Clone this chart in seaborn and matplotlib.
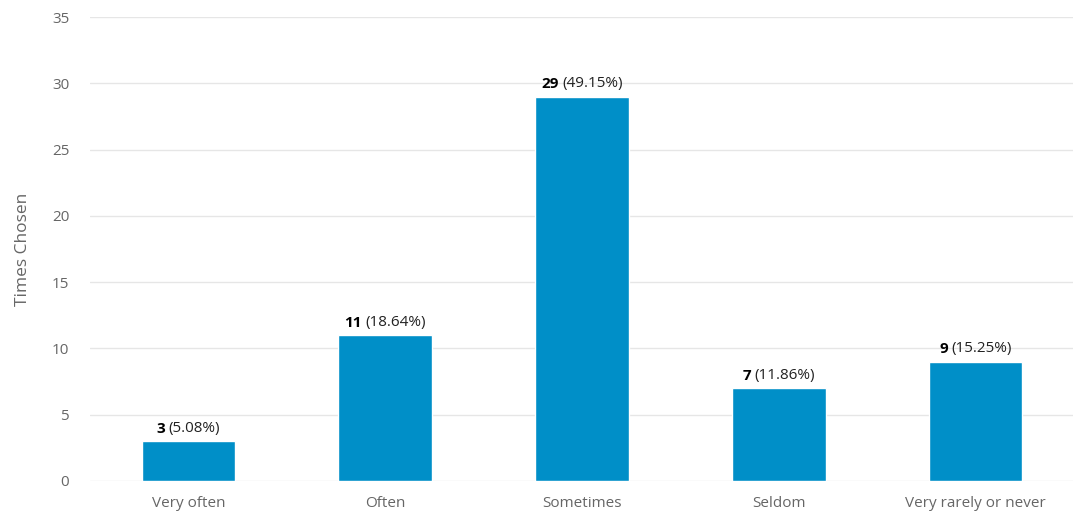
import matplotlib
matplotlib.use("Agg")
import matplotlib.pyplot as plt
import matplotlib.transforms as mtransforms
import seaborn as sns
import pandas as pd

categories = ["Very often", "Often", "Sometimes", "Seldom", "Very rarely or never"]
counts = [3, 11, 29, 7, 9]
percents = ["5.08%", "18.64%", "49.15%", "11.86%", "15.25%"]
y_ticks = [0, 5, 10, 15, 20, 25, 30, 35]

sns.set_theme(style="white")
plt.rcParams["font.family"] = ["Open Sans", "DejaVu Sans"]

df = pd.DataFrame({"answer": categories, "count": counts})

fig = plt.figure(figsize=(10.73, 5.14), dpi=100)
ax = fig.add_axes([90 / 1073, 33 / 514, (1074 - 90) / 1073, (481 - 17) / 514])

sns.barplot(data=df, x="answer", y="count", color="#008fc8", saturation=1,
            width=0.475, ax=ax, zorder=3)

ax.set_ylim(0, 35)
ax.set_xlim(-0.5, len(categories) - 0.5)
ax.set_yticks(y_ticks)
ax.grid(axis="y", color="#e6e6e6", linewidth=1, zorder=0)
ax.grid(axis="x", visible=False)
for s in ax.spines.values():
    s.set_visible(False)
ax.tick_params(axis="both", length=0, colors="#666666", labelsize=11)
ax.tick_params(axis="y", pad=15)
ax.tick_params(axis="x", pad=11)
ax.set_xlabel("")
ax.set_ylabel("Times Chosen", color="#666666", fontsize=12.5, labelpad=15)

# value labels: bold count followed by the share in regular weight
fig.canvas.draw()
renderer = fig.canvas.get_renderer()
dy = 4
gap = 3.5  # px between the count and the bracketed share
for i, (c, p) in enumerate(zip(counts, percents)):
    base = mtransforms.offset_copy(ax.transData, fig=fig, x=0, y=dy, units="points")
    t1 = ax.text(i, c, str(c), fontweight="bold", fontsize=11, color="#000000",
                 ha="left", va="bottom", transform=base)
    t2 = ax.text(i, c, "(" + p + ")", fontsize=11, color="#222222",
                 ha="left", va="bottom", transform=base)
    w1 = t1.get_window_extent(renderer).width
    w2 = t2.get_window_extent(renderer).width
    total = w1 + gap + w2
    dpi = fig.dpi
    t1.set_transform(mtransforms.offset_copy(ax.transData, fig=fig,
                     x=-total / 2 * 72 / dpi, y=dy, units="points"))
    t2.set_transform(mtransforms.offset_copy(ax.transData, fig=fig,
                     x=(-total / 2 + w1 + gap) * 72 / dpi, y=dy, units="points"))

fig.savefig("out.png", dpi=100, facecolor="white")
